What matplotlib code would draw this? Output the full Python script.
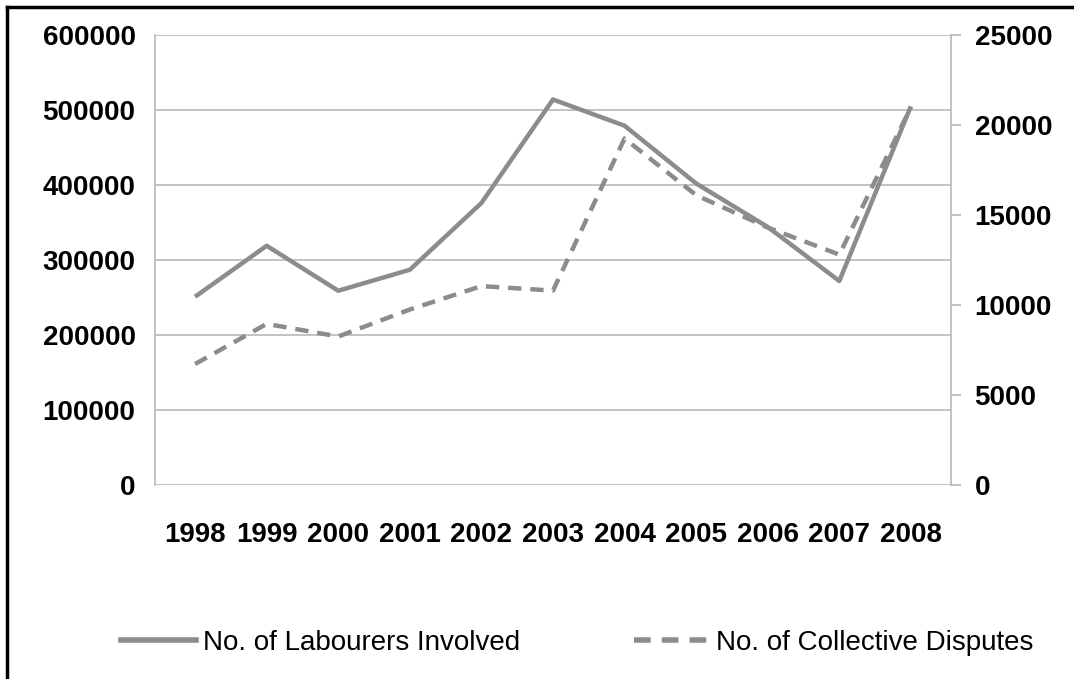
import numpy as np
import matplotlib.pyplot as plt
from matplotlib.lines import Line2D

years = ['1998', '1999', '2000', '2001', '2002', '2003', '2004', '2005', '2006', '2007', '2008']
labourers = [251000, 319000, 259000, 287000, 376000, 514000, 479000, 402000, 344000, 272000, 505000]
disputes = [6720, 8950, 8250, 9750, 11050, 10800, 19250, 16100, 14300, 12800, 21000]

left_ticks = [0, 100000, 200000, 300000, 400000, 500000, 600000]
right_ticks = [0, 5000, 10000, 15000, 20000, 25000]

line_col = '#8c8c8e'
grid_col = '#b8b9c0'
tick_font = dict(family='Liberation Sans', weight='bold', size=20)

fig = plt.figure(figsize=(10.74, 6.79), dpi=100)
W, H = 1074, 679
ax = fig.add_axes([155 / W, 1 - 485 / H, (951 - 155) / W, (485 - 35) / H])
ax2 = ax.twinx()

x = np.arange(len(years))
ax.plot(x, labourers, color=line_col, lw=3.2, solid_capstyle='butt', zorder=3)
ax2.plot(x, disputes, color=line_col, lw=3.2, ls=(0, (3, 2)), zorder=3)

ax.set_xlim(-0.56, len(years) - 0.44)
ax.set_ylim(0, 600000)
ax2.set_ylim(0, 25000)
ax.set_yticks(left_ticks)
ax.set_yticklabels([str(v) for v in left_ticks], fontdict=tick_font)
ax2.set_yticks(right_ticks)
ax2.set_yticklabels([str(v) for v in right_ticks], fontdict=tick_font)
ax.set_xticks(x)
ax.set_xticklabels(years, fontdict=tick_font)

ax.grid(axis='y', color=grid_col, lw=1.2)
ax.set_axisbelow(True)
ax.tick_params(axis='y', length=0, pad=14)
ax.tick_params(axis='x', length=0, pad=27)
ax2.tick_params(axis='y', length=7, width=1.2, color=grid_col, pad=10)
for a in (ax, ax2):
    for s in a.spines.values():
        s.set_visible(False)
ax.spines['left'].set_visible(True)
ax.spines['left'].set_color(grid_col)
ax.spines['left'].set_linewidth(1.2)
ax2.spines['right'].set_visible(True)
ax2.spines['right'].set_color(grid_col)
ax2.spines['right'].set_linewidth(1.2)

# legend
handles = [Line2D([], [], color=line_col, lw=4),
           Line2D([], [], color=line_col, lw=4, ls=(0, (3, 2)))]
fig.legend(handles, ['No. of Labourers Involved', 'No. of Collective Disputes'],
           loc='center', bbox_to_anchor=(0.537, 1 - 643 / H), ncol=2,
           frameon=False, handlelength=2.7, handletextpad=0.25, columnspacing=4.1,
           prop=dict(family='Liberation Sans', size=20))

# outer frame (top and left)
fig.add_artist(Line2D([7 / W, 7 / W], [0, 1 - 7 / H], color='black', lw=2.5,
                      transform=fig.transFigure))
fig.add_artist(Line2D([7 / W, 1], [1 - 7 / H, 1 - 7 / H], color='black', lw=2.5,
                      transform=fig.transFigure))

fig.savefig('out.png', dpi=100)
